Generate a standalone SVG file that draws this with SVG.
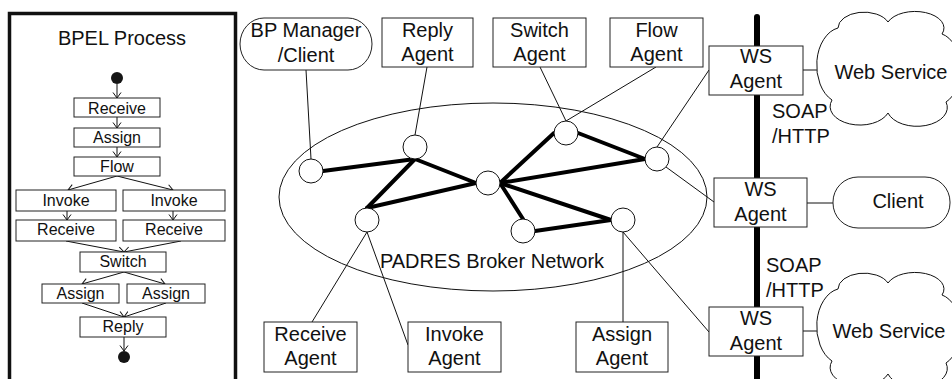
<svg xmlns="http://www.w3.org/2000/svg" width="952" height="379" viewBox="0 0 952 379">
<defs>
<style>
text{font-family:"Liberation Sans",Arial,sans-serif;fill:#111;text-anchor:middle}
.t20{font-size:20px}
.t16{font-size:16px}
.box{fill:#fff;stroke:#222;stroke-width:1}
.sbox{fill:#fff;stroke:#222;stroke-width:1}
.thin{stroke:#111;stroke-width:1;fill:none}
.thick{stroke:#000;stroke-width:4;fill:none;stroke-linecap:round}
.broker{fill:#fff;stroke:#111;stroke-width:1}
.flowl{stroke:#111;stroke-width:1;fill:none;marker-end:url(#ah)}
.dot{fill:#151515}
</style>
<marker id="ah" markerUnits="userSpaceOnUse" markerWidth="7" markerHeight="10" viewBox="0 0 7 10" refX="6" refY="5" orient="auto">
<path d="M0.5,1 L6,5 L0.5,9" fill="none" stroke="#111" stroke-width="1"/>
</marker>
<path id="cloud" d="M832,100 A26 38 0 0 1 838,28 A26 16 0 0 1 888,22 A28 16 0 0 1 942,34 A24 36 0 0 1 946,102 A29 18 0 0 1 888,113 A29 18 0 0 1 832,100 Z"/>
</defs>
<rect width="952" height="379" fill="#fff"/>

<!-- BPEL process panel -->
<g id="bpel">
<rect x="9.5" y="13.5" width="226" height="400" fill="none" stroke="#111" stroke-width="3.5"/>
<text class="t20" x="122" y="45">BPEL Process</text>
<g id="bpel-connectors">
<line class="flowl" x1="117" y1="84" x2="117" y2="98"/>
<line class="flowl" x1="117" y1="117" x2="117" y2="128"/>
<line class="flowl" x1="117" y1="147" x2="117" y2="157"/>
<line class="flowl" x1="117" y1="176" x2="68" y2="190"/>
<line class="flowl" x1="117" y1="176" x2="173" y2="190"/>
<line class="flowl" x1="67" y1="211" x2="67" y2="220"/>
<line class="flowl" x1="173" y1="211" x2="173" y2="220"/>
<line class="flowl" x1="66" y1="241" x2="124" y2="252"/>
<line class="flowl" x1="181" y1="241" x2="124" y2="252"/>
<line class="flowl" x1="124" y1="272" x2="82" y2="284"/>
<line class="flowl" x1="124" y1="272" x2="165" y2="284"/>
<line class="flowl" x1="82" y1="303" x2="124" y2="317"/>
<line class="flowl" x1="166" y1="303" x2="124" y2="317"/>
<line class="flowl" x1="124" y1="337" x2="124" y2="351"/>
</g>
<circle id="bpel-start" class="dot" cx="117" cy="78" r="6"/>
<g id="bpel-receive1"><rect class="sbox" x="74" y="98" width="86" height="19"/><text class="t16" x="117" y="114">Receive</text></g>
<g id="bpel-assign1"><rect class="sbox" x="74" y="128" width="86" height="19"/><text class="t16" x="117" y="143">Assign</text></g>
<g id="bpel-flow"><rect class="sbox" x="74" y="157" width="86" height="19"/><text class="t16" x="117" y="172">Flow</text></g>
<g id="bpel-invoke1"><rect class="sbox" x="16" y="190" width="100" height="21"/><text class="t16" x="66" y="206">Invoke</text></g>
<g id="bpel-invoke2"><rect class="sbox" x="123" y="190" width="102" height="21"/><text class="t16" x="174" y="206">Invoke</text></g>
<g id="bpel-receive2"><rect class="sbox" x="16" y="220" width="100" height="21"/><text class="t16" x="66" y="235">Receive</text></g>
<g id="bpel-receive3"><rect class="sbox" x="123" y="220" width="102" height="21"/><text class="t16" x="174" y="235">Receive</text></g>
<g id="bpel-switch"><rect class="sbox" x="80" y="252" width="86" height="20"/><text class="t16" x="123" y="267">Switch</text></g>
<g id="bpel-assign2"><rect class="sbox" x="42" y="284" width="77" height="19"/><text class="t16" x="80.5" y="299">Assign</text></g>
<g id="bpel-assign3"><rect class="sbox" x="127" y="284" width="78" height="19"/><text class="t16" x="166" y="299">Assign</text></g>
<g id="bpel-reply"><rect class="sbox" x="80" y="317" width="86" height="20"/><text class="t16" x="123" y="332">Reply</text></g>
<circle id="bpel-end" class="dot" cx="124" cy="357" r="6"/>
</g>

<!-- PADRES broker network -->
<g id="padres-network">
<ellipse cx="493" cy="197" rx="214" ry="94" fill="none" stroke="#111" stroke-width="1"/>
<text class="t20" x="492" y="268">PADRES Broker Network</text>
</g>

<!-- SOAP/HTTP bus -->
<g id="soap-bus">
<line x1="757" y1="17" x2="757" y2="390" stroke="#000" stroke-width="6" stroke-linecap="round"/>
<text class="t20" x="772" y="118" style="text-anchor:start">SOAP</text>
<text class="t20" x="772" y="143" style="text-anchor:start">/HTTP</text>
<text class="t20" x="766" y="272" style="text-anchor:start">SOAP</text>
<text class="t20" x="766" y="297" style="text-anchor:start">/HTTP</text>
</g>

<!-- connectors -->
<g id="connectors">
<line class="thin" x1="306" y1="70" x2="311" y2="159"/>
<line class="thin" x1="427" y1="67" x2="415" y2="135"/>
<line class="thin" x1="540" y1="67" x2="566" y2="121"/>
<line class="thin" x1="656" y1="67" x2="566" y2="121"/>
<line class="thin" x1="709" y1="70" x2="657" y2="147"/>
<line class="thin" x1="666" y1="167" x2="714" y2="202"/>
<line class="thin" x1="367" y1="232" x2="312" y2="322"/>
<line class="thin" x1="367" y1="232" x2="408" y2="345"/>
<line class="thin" x1="623" y1="232" x2="623" y2="322"/>
<line class="thin" x1="623" y1="232" x2="709" y2="332"/>
<line class="thin" x1="803" y1="70" x2="817" y2="70"/>
<line class="thin" x1="807" y1="203" x2="833" y2="203"/>
<line class="thin" x1="803" y1="331" x2="817" y2="331"/>
<line class="thick" x1="323" y1="171" x2="415" y2="159"/>
<line class="thick" x1="415" y1="159" x2="367" y2="208"/>
<line class="thick" x1="415" y1="159" x2="476" y2="183"/>
<line class="thick" x1="367" y1="208" x2="476" y2="183"/>
<line class="thick" x1="500" y1="183" x2="554" y2="133"/>
<line class="thick" x1="578" y1="133" x2="645" y2="159"/>
<line class="thick" x1="500" y1="183" x2="645" y2="159"/>
<line class="thick" x1="500" y1="183" x2="611" y2="220"/>
<line class="thick" x1="500" y1="183" x2="523" y2="219"/>
<line class="thick" x1="535" y1="231" x2="611" y2="220"/>
</g>

<!-- brokers -->
<g id="broker-1"><circle class="broker" cx="311" cy="171" r="12"/></g>
<g id="broker-2"><circle class="broker" cx="415" cy="147" r="12"/></g>
<g id="broker-3"><circle class="broker" cx="566" cy="133" r="12"/></g>
<g id="broker-4"><circle class="broker" cx="657" cy="159" r="12"/></g>
<g id="broker-5"><circle class="broker" cx="488" cy="183" r="12"/></g>
<g id="broker-6"><circle class="broker" cx="367" cy="220" r="12"/></g>
<g id="broker-7"><circle class="broker" cx="523" cy="231" r="12"/></g>
<g id="broker-8"><circle class="broker" cx="623" cy="220" r="12"/></g>

<!-- agents -->
<g id="bp-manager"><rect class="box" x="240" y="18" width="132" height="52" rx="24" ry="26"/><text class="t20" x="306" y="37">BP Manager</text><text class="t20" x="306" y="62">/Client</text></g>
<g id="reply-agent"><rect class="box" x="382" y="18" width="91" height="49"/><text class="t20" x="427.5" y="37">Reply</text><text class="t20" x="427.5" y="61">Agent</text></g>
<g id="switch-agent"><rect class="box" x="493" y="18" width="93" height="49"/><text class="t20" x="539.5" y="37">Switch</text><text class="t20" x="539.5" y="61">Agent</text></g>
<g id="flow-agent"><rect class="box" x="610" y="18" width="93" height="49"/><text class="t20" x="656.5" y="37">Flow</text><text class="t20" x="656.5" y="61">Agent</text></g>
<g id="ws-agent-1"><rect class="box" x="709" y="46" width="94" height="49"/><text class="t20" x="756" y="63">WS</text><text class="t20" x="756" y="88">Agent</text></g>
<g id="ws-agent-2"><rect class="box" x="714" y="178" width="93" height="49"/><text class="t20" x="760.5" y="196">WS</text><text class="t20" x="760.5" y="221">Agent</text></g>
<g id="ws-agent-3"><rect class="box" x="709" y="307" width="94" height="49"/><text class="t20" x="756" y="325">WS</text><text class="t20" x="756" y="350">Agent</text></g>
<g id="receive-agent"><rect class="box" x="264" y="322" width="93" height="50"/><text class="t20" x="310.5" y="341">Receive</text><text class="t20" x="310.5" y="365">Agent</text></g>
<g id="invoke-agent"><rect class="box" x="408" y="322" width="93" height="50"/><text class="t20" x="454.5" y="341">Invoke</text><text class="t20" x="454.5" y="365">Agent</text></g>
<g id="assign-agent"><rect class="box" x="576" y="322" width="92" height="50"/><text class="t20" x="622" y="341">Assign</text><text class="t20" x="622" y="365">Agent</text></g>

<!-- external -->
<g id="web-service-1"><use href="#cloud" fill="#fff" stroke="#111" stroke-width="1"/><text class="t20" x="891" y="79">Web Service</text></g>
<g id="client"><rect class="box" x="833" y="177" width="117" height="51" rx="25" ry="25"/><text class="t20" x="898" y="208">Client</text></g>
<g id="web-service-2"><use href="#cloud" transform="translate(0,261)" fill="#fff" stroke="#111" stroke-width="1"/><text class="t20" x="889" y="338">Web Service</text></g>
</svg>
